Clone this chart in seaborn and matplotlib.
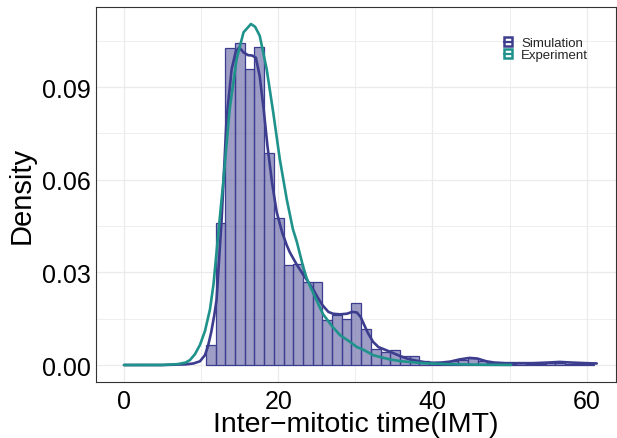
import numpy as np
import pandas as pd
import matplotlib
matplotlib.use('Agg')
import matplotlib.pyplot as plt
import seaborn as sns
from matplotlib.patches import Patch
from matplotlib.lines import Line2D

# ---------------- data ----------------
bin_start = 10.63
bin_width = 1.258
bar_heights = [0.0065, 0.0459, 0.1025, 0.1044, 0.0958, 0.1028, 0.0686, 0.0475,
               0.0325, 0.0327, 0.0269, 0.0270, 0.0146, 0.0162, 0.0148, 0.0201,
               0.0117, 0.0052, 0.0042, 0.0050, 0.0030, 0.0030, 0.0014, 0.0010,
               0.0009, 0.0012, 0.0017, 0.0022, 0.0014, 0.0006, 0.0004, 0.0004,
               0.0006, 0.0004, 0.0004, 0.0008, 0.0008, 0.0004, 0.0004, 0.0004]

sim_x = [0, 5, 8, 9, 9.85, 10.5, 10.9, 11.3, 11.7, 12.0, 12.66, 13.3, 13.96, 14.5,
         14.95, 15.5, 16.1, 16.6, 17.1, 17.6, 18.1, 18.6, 19.2, 19.8, 20.5, 21.1,
         21.5, 22.4, 23.2, 24.0, 24.5, 25.2, 25.8, 26.5, 27.1, 28.0, 28.9, 29.6,
         30.2, 30.7, 31.0, 31.6, 32.3, 33.0, 33.6, 34.5, 35.8, 36.8, 37.9, 39.0,
         40.1, 41.2, 42.3, 43.5, 44.8, 45.8, 47.0, 48.0, 49.5, 51, 53, 55, 56.5,
         58, 60, 61.3]
sim_y = [0, 0, 0.0002, 0.0005, 0.0012, 0.0032, 0.0062, 0.0105, 0.0160, 0.0210,
         0.0470, 0.0796, 0.0958, 0.1015, 0.1028, 0.1012, 0.1003, 0.1002, 0.0995,
         0.0935, 0.0830, 0.0710, 0.0590, 0.0495, 0.0430, 0.0388, 0.0365, 0.0325,
         0.0294, 0.0265, 0.0246, 0.0215, 0.0192, 0.0172, 0.0166, 0.0164, 0.0166,
         0.0172, 0.0170, 0.0155, 0.0138, 0.0105, 0.0075, 0.0058, 0.0052, 0.0043,
         0.0029, 0.0020, 0.0014, 0.0009, 0.0007, 0.0008, 0.0011, 0.0018, 0.0023,
         0.0021, 0.0012, 0.0008, 0.0006, 0.0006, 0.0006, 0.0008, 0.0010, 0.0008,
         0.0006, 0.0005]

exp_x = [0, 5, 7, 8, 8.55, 9.2, 9.85, 10.5, 11.15, 11.6, 12.0, 12.9, 13.7, 14.6,
         15.5, 16.46, 17.0, 17.6, 18.5, 19.35, 20.2, 21.1, 21.9, 22.4, 23.2, 23.7,
         24.5, 25.8, 27.0, 28.0, 29.3, 30.2, 31.0, 32.3, 33.5, 34.5, 36, 38.8, 42,
         46, 50.2]
exp_y = [0, 0.00002, 0.0003, 0.0008, 0.0016, 0.0035, 0.0065, 0.0110, 0.0180,
         0.0260, 0.0365, 0.0600, 0.0828, 0.0990, 0.1077, 0.1104, 0.1095, 0.1066,
         0.0958, 0.0818, 0.0667, 0.0537, 0.0440, 0.0400, 0.0321, 0.0280, 0.0235,
         0.0165, 0.0125, 0.0097, 0.0075, 0.0058, 0.0050, 0.0032, 0.0024, 0.0018,
         0.0012, 0.0006, 0.0003, 0.0001, 0.00005]

series_names = ['Simulation', 'Experiment']
x_ticks = [0, 20, 40, 60]
x_minor = [10, 30, 50]
y_ticks = [0.00, 0.03, 0.06, 0.09]
y_minor = [0.015, 0.045, 0.075, 0.105]
y_tick_labels = ['0.00', '0.03', '0.06', '0.09']

# ---------------- style ----------------
sim_color = '#3d3d8f'
exp_color = '#1f928b'
sns.set_style('white')
plt.rcParams['font.family'] = ['Liberation Sans', 'DejaVu Sans']

fig = plt.figure(figsize=(6.17, 4.39), dpi=100)
ax = fig.add_axes([96 / 617, 1 - 383 / 439, (616 - 96) / 617, (383 - 8) / 439])

n = len(bar_heights)
edges = [float(e) for e in bin_start + bin_width * np.arange(n + 1)]
centers = [(edges[i] + edges[i + 1]) / 2 for i in range(n)]
hist_df = pd.DataFrame({'IMT': centers, 'density': bar_heights})
sns.histplot(data=hist_df, x='IMT', weights='density', bins=edges, stat='count',
             color=sim_color, alpha=0.5, edgecolor=sim_color, linewidth=0.9, ax=ax)

sns.lineplot(x=sim_x, y=sim_y, color=sim_color, linewidth=1.9, ax=ax)
sns.lineplot(x=exp_x, y=exp_y, color=exp_color, linewidth=1.9, ax=ax)

ax.set_xlim(-3.63, 63.8)
ax.set_ylim(-0.0055, 0.1159)
ax.set_xticks(x_ticks)
ax.set_xticks(x_minor, minor=True)
ax.set_yticks(y_ticks)
ax.set_yticks(y_minor, minor=True)
ax.set_yticklabels(y_tick_labels)
ax.set_axisbelow(True)
ax.grid(which='major', color='#ebebeb', linewidth=0.9)
ax.grid(which='minor', color='#ebebeb', linewidth=0.6)
ax.tick_params(which='major', length=3, width=0.8, color='#333333',
               labelsize=18, pad=2, labelcolor='black')
ax.tick_params(axis='y', which='major', pad=1)
ax.tick_params(which='minor', length=0)
for sp in ax.spines.values():
    sp.set_visible(True)
    sp.set_color('#333333')
    sp.set_linewidth(0.8)

ax.set_xlabel('Inter\u2212mitotic time(IMT)', fontsize=20.5, color='black')
ax.xaxis.set_label_coords(0.5, -(438 - 383) / 375, transform=ax.transAxes)
ax.xaxis.label.set_va('bottom')
ax.set_ylabel('Density', fontsize=21, labelpad=4, color='black')

handles = [(Patch(facecolor='white', edgecolor=c, linewidth=1.8),
            Line2D([], [], color=c, linewidth=1.6)) for c in (sim_color, exp_color)]
fig.legend(handles, series_names, loc='upper left',
           bbox_to_anchor=(504 / 617, 1 - 38 / 439), frameon=False, fontsize=9.5,
           handlelength=0.6, handleheight=0.6, handletextpad=0.7,
           labelspacing=0.0, borderpad=0, borderaxespad=0)

fig.savefig('out.png', dpi=100)
